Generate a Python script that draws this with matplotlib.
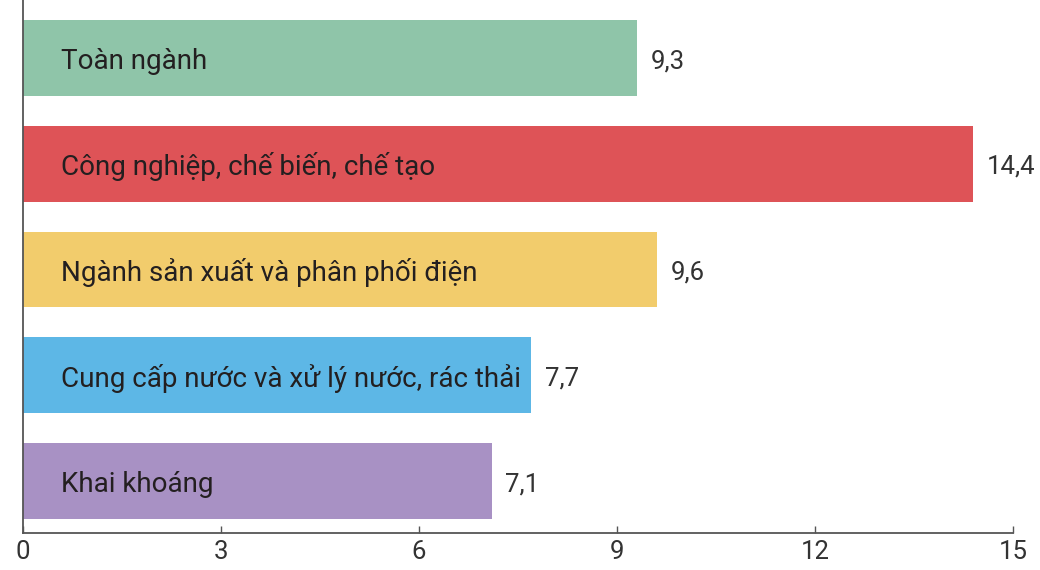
import matplotlib
matplotlib.use("Agg")
import matplotlib.pyplot as plt

# Dữ liệu (từ trên xuống dưới)
nganh = ['Toàn ngành', 'Công nghiệp, chế biến, chế tạo', 'Ngành sản xuất và phân phối điện',
         'Cung cấp nước và xử lý nước, rác thải', 'Khai khoáng']
gia_tri = [9.3, 14.4, 9.6, 7.7, 7.1]
nhan_gia_tri = ['9,3', '14,4', '9,6', '7,7', '7,1']
mau = ['#8fc5a9', '#de5357', '#f2cc6c', '#5db7e6', '#a891c4']
ticks = [0, 3, 6, 9, 12, 15]

plt.rcParams['font.family'] = ['Roboto', 'DejaVu Sans']

fig = plt.figure(figsize=(10.4, 5.7), dpi=100)
ax = fig.add_axes([23 / 1040, 37 / 570, 990 / 1040, 533 / 570])

n = len(nganh)
vi_tri = list(range(n - 1, -1, -1))
ax.barh(vi_tri, gia_tri, height=0.717, color=mau, zorder=2)

for y, v, ten, nhan in zip(vi_tri, gia_tri, nganh, nhan_gia_tri):
    ax.text(0.58, y - 0.03, ten, va='center', ha='left', fontsize=20, color='#231f20', zorder=3)
    ax.annotate(nhan, (v, y - 0.03), xytext=(10, 0), textcoords='offset points',
                va='center', ha='left', fontsize=18.5, color='#333333')

ax.set_xlim(0, 15)
ax.set_ylim(-0.49, n - 1 + 0.547)
ax.set_xticks(ticks)
ax.set_xticklabels([str(t) for t in ticks], fontsize=18.5, color='#333333')
ax.set_yticks([])
ax.tick_params(axis='x', direction='in', length=5, width=1, color='#555555', pad=5)

for s in ['top', 'right']:
    ax.spines[s].set_visible(False)
for s in ['left', 'bottom']:
    ax.spines[s].set_color('#555555')
    ax.spines[s].set_linewidth(1.3)

fig.savefig('out.png', dpi=100)
